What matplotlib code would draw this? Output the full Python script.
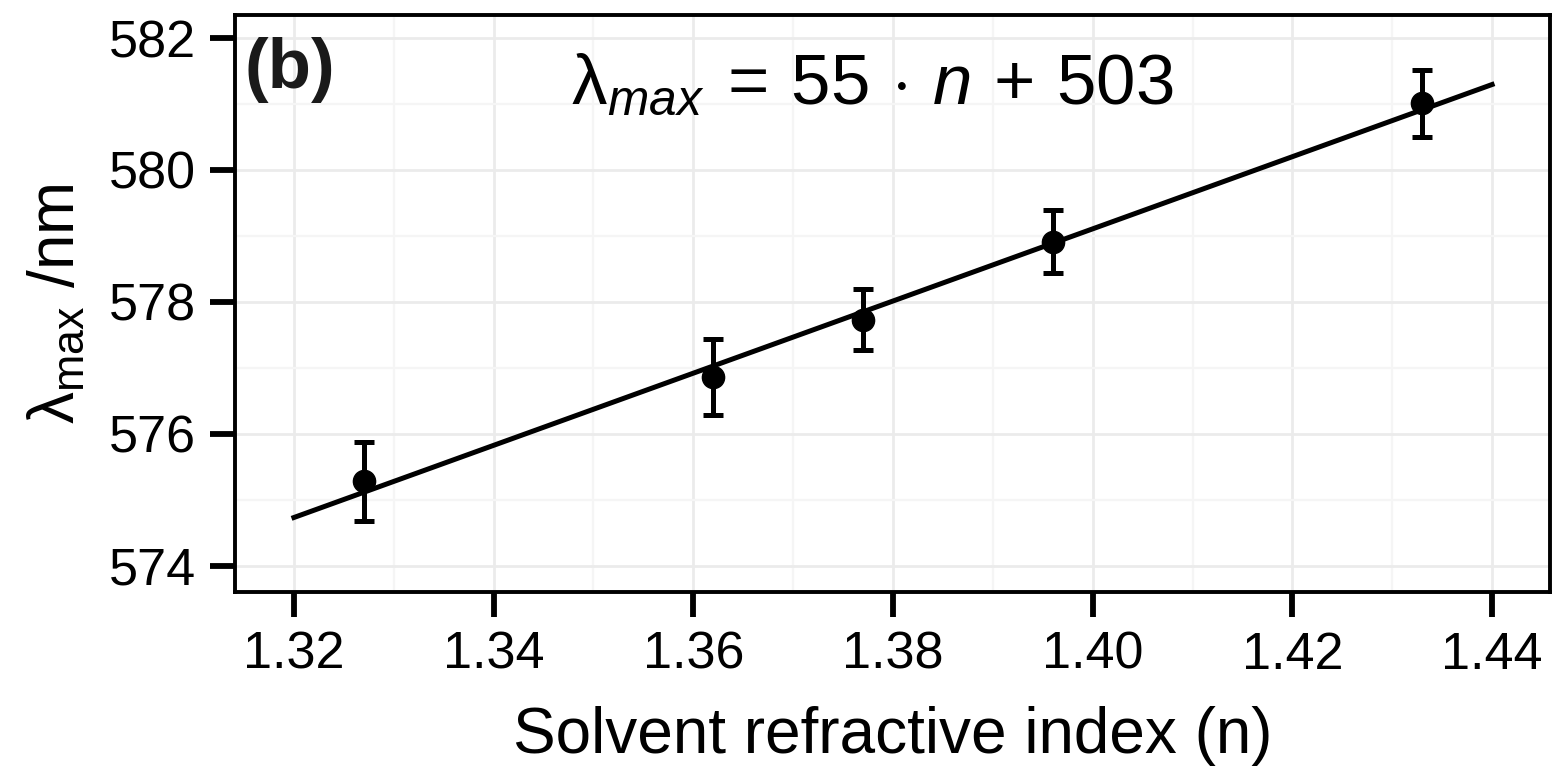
import numpy as np
import matplotlib
matplotlib.use("Agg")
import matplotlib.pyplot as plt
from matplotlib.ticker import MultipleLocator

plt.rcParams["font.family"] = ["Liberation Sans", "DejaVu Sans"]
plt.rcParams["mathtext.fontset"] = "custom"
plt.rcParams["mathtext.rm"] = "Liberation Sans"
plt.rcParams["mathtext.it"] = "Liberation Sans:italic"
plt.rcParams["mathtext.bf"] = "Liberation Sans:bold"

# data
refr_index = [1.327, 1.362, 1.377, 1.396, 1.433]
lambda_max = [575.28, 576.86, 577.73, 578.91, 581.01]
lambda_err = [0.60, 0.57, 0.46, 0.48, 0.51]
fit_range = [1.32, 1.44]

x_ticks = [1.32, 1.34, 1.36, 1.38, 1.40, 1.42, 1.44]
y_ticks = [574, 576, 578, 580, 582]

fig = plt.figure(figsize=(15.56, 7.71), dpi=100)
ax = fig.add_axes([235 / 1556, 1 - 592 / 771, 1315 / 1556, 577 / 771])

# grid like ggplot theme_bw
ax.set_axisbelow(True)
ax.xaxis.set_minor_locator(MultipleLocator(0.01))
ax.yaxis.set_minor_locator(MultipleLocator(1))
ax.grid(which="major", color="#EBEBEB", lw=2.0)
ax.grid(which="minor", color="#F5F5F5", lw=1.6)

# linear fit line
slope, icept = np.polyfit(refr_index, lambda_max, 1)
xf = np.array(fit_range)
ax.plot(xf, slope * xf + icept, color="black", lw=3.6, zorder=2)

ax.errorbar(refr_index, lambda_max, yerr=lambda_err, fmt="o", color="black",
            ms=16, elinewidth=3.6, capsize=7.5, capthick=3.6, zorder=3)

ax.set_xlim(1.3141, 1.4458)
ax.set_ylim(573.6, 582.35)
ax.set_xticks(x_ticks)
ax.set_xticklabels([f"{t:.2f}" for t in x_ticks])
ax.set_yticks(y_ticks)

for sp in ax.spines.values():
    sp.set_linewidth(2.8)
ax.tick_params(which="major", length=18, width=4.2, labelsize=37.5, pad=10)
ax.tick_params(which="minor", length=0)

ax.set_xlabel("Solvent refractive index (n)", fontsize=46, labelpad=19)
ax.set_ylabel(r"$\mathrm{\lambda_{max}}$ /nm", fontsize=46, labelpad=16)

ax.text(0.0072, 0.8735, "(b)", transform=ax.transAxes, fontsize=51,
        fontweight="bold", ha="left", va="baseline", color="#1a1a1a")
ax.text(0.4844, 0.8458,
        r"$\mathrm{\lambda}_{max}\:=\,55\,\cdot\,n\,+\,503$",
        transform=ax.transAxes, fontsize=51, ha="center", va="baseline")

fig.savefig("out.png", dpi=100)
